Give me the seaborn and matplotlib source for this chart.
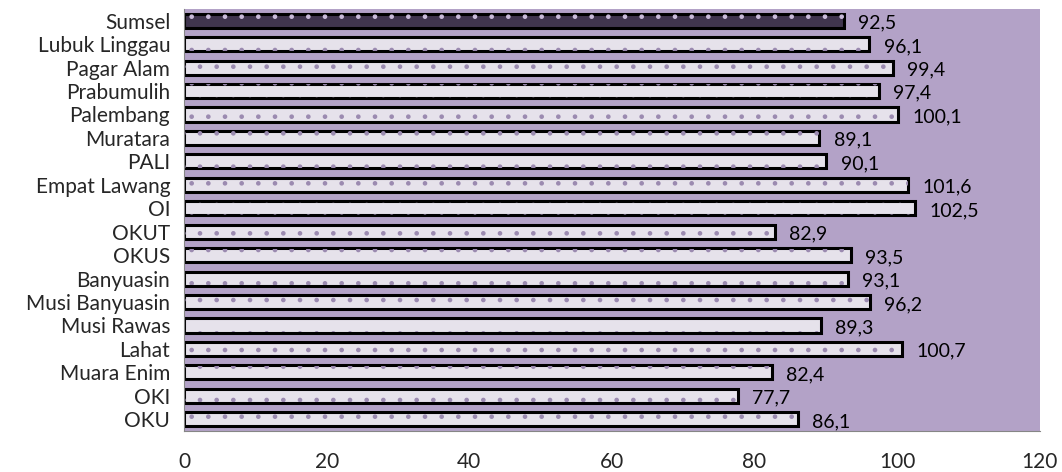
import numpy as np
import pandas as pd
import matplotlib
matplotlib.use("Agg")
import matplotlib.pyplot as plt
import seaborn as sns

# Datos
wilayah = ['Sumsel', 'Lubuk Linggau', 'Pagar Alam', 'Prabumulih', 'Palembang',
           'Muratara', 'PALI', 'Empat Lawang', 'OI', 'OKUT', 'OKUS', 'Banyuasin',
           'Musi Banyuasin', 'Musi Rawas', 'Lahat', 'Muara Enim', 'OKI', 'OKU']
nilai = [92.5, 96.1, 99.4, 97.4, 100.1, 89.1, 90.1, 101.6, 102.5, 82.9,
         93.5, 93.1, 96.2, 89.3, 100.7, 82.4, 77.7, 86.1]
x_ticks = [0, 20, 40, 60, 80, 100, 120]

df = pd.DataFrame({'wilayah': wilayah, 'nilai': nilai})

sns.set_style('white')
plt.rcParams['font.family'] = ['Lato', 'DejaVu Sans']
plt.rcParams['hatch.linewidth'] = 0.9

warna = ['#403152' if w == 'Sumsel' else '#E6E0EC' for w in wilayah]
warna_titik = ['#C9BBD9' if w == 'Sumsel' else '#9B8AB0' for w in wilayah]

fig = plt.figure(figsize=(10.62, 4.72), dpi=100)
ax = fig.add_axes([0.1733, 0.0869, 0.8057, 0.8941])
ax.set_facecolor('#B3A2C7')

# Batang utama dengan garis tepi hitam
sns.barplot(data=df, x='nilai', y='wilayah', hue='wilayah', palette=warna,
            legend=False, width=0.6, edgecolor='black', linewidth=2.2, ax=ax)
# Lapisan titik-titik
sns.barplot(data=df, x='nilai', y='wilayah', hue='wilayah', palette=warna_titik,
            legend=False, width=0.56, linewidth=0, ax=ax)
n = len(wilayah)
for i, p in enumerate(ax.patches[n:]):
    p.set_facecolor('none')
    p.set_edgecolor(warna_titik[i])
    p.set_hatch('.')
    p.set_linewidth(0)

# Label nilai
for i, v in enumerate(nilai):
    ax.text(v + 2.0, i + 0.1, f'{v:.1f}'.replace('.', ','), va='center',
            ha='left', fontsize=14, color='black')

ax.set_xlim(0, 120)
ax.set_ylim(n - 0.5, -0.5)
ax.set_xticks(x_ticks)
ax.set_xticklabels([str(t) for t in x_ticks], fontsize=15)
ax.set_yticks(range(n))
ax.set_yticklabels(wilayah, fontsize=15)
ax.set_yticks(np.arange(-0.5, n, 1), minor=True)
ax.tick_params(axis='y', which='major', length=0, pad=10)
ax.tick_params(axis='y', which='minor', length=5, color='#868686', width=1)
ax.tick_params(axis='x', which='major', length=5, color='#868686', width=1, pad=10)
ax.set_xlabel('')
ax.set_ylabel('')

for s in ['top', 'right']:
    ax.spines[s].set_visible(False)
ax.spines['left'].set_color('#868686')
ax.spines['bottom'].set_color('#868686')

fig.savefig('out.png', dpi=100)
